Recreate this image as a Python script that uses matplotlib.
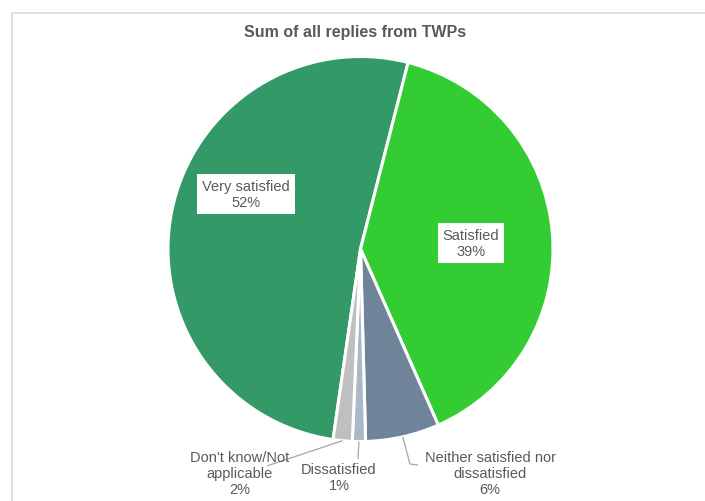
import numpy as np
import matplotlib.pyplot as plt
from matplotlib.patches import Rectangle

plt.rcParams['font.family'] = ['Liberation Sans', 'DejaVu Sans']

# data (share of replies, %)
categories = ['Very satisfied', 'Satisfied', 'Neither satisfied nor\ndissatisfied',
              'Dissatisfied', "Don't know/Not\napplicable"]
shares = [51.7, 39.4, 6.2, 1.1, 1.6]
shown_pct = [52, 39, 6, 1, 2]
colors = ['#339966', '#33cc33', '#6f8499', '#a9b9c8', '#bfbfbf']

# label placement (data units, pie radius = 1)
label_pos = [(-0.597, 0.286), (0.574, 0.031), (0.673, -1.164),
             (-0.112, -1.184), (-0.626, -1.164)]
leader = [None, None, [(0.257, -1.117), (0.299, -1.122)],
          [(-0.013, -1.091)], [(-0.486, -1.127)]]
boxed = [True, True, False, False, False]

fig = plt.figure(figsize=(7.05, 5.02), dpi=100)
ax = fig.add_axes([0, 0, 1, 1])

wedges, _ = ax.pie(shares, colors=colors, startangle=90 - 188.2, counterclock=False,
                   radius=1.0, wedgeprops=dict(edgecolor='white', linewidth=2.2))

ax.set_aspect('auto')
ax.set_xlim(-360.5 / 192.5, (705 - 360.5) / 192.5)
ax.set_ylim(-252 / 192.5, 250 / 192.5)
ax.axis('off')

txt_color = '#595959'
for w, cat, pct, pos, lead, bx in zip(wedges, categories, shown_pct, label_pos, leader, boxed):
    s = f'{cat}\n{pct}%'
    kw = {}
    if bx:
        kw['bbox'] = dict(boxstyle='square,pad=0.35', facecolor='white', edgecolor='none')
    ax.text(pos[0], pos[1], s, ha='center', va='center', fontsize=10.5,
            color=txt_color, linespacing=1.18, **kw)
    if lead is not None:
        mid = np.deg2rad((w.theta1 + w.theta2) / 2)
        xs = [np.cos(mid)] + [p[0] for p in lead]
        ys = [np.sin(mid)] + [p[1] for p in lead]
        ax.plot(xs, ys, color='#a6a6a6', lw=0.9, solid_capstyle='butt')

fig.text(355 / 705, 1 - 33 / 502, 'Sum of all replies from TWPs', ha='center', va='center',
         fontsize=11.5, fontweight='bold', color=txt_color)

# chart area border (cut off at right and bottom)
fig.patches.append(Rectangle((11.5 / 705, -0.1), 1.2, (502 - 13.5) / 502 + 0.1,
                             transform=fig.transFigure, fill=False,
                             edgecolor='#d9d9d9', lw=1.2))

fig.savefig('out.png', dpi=100)
